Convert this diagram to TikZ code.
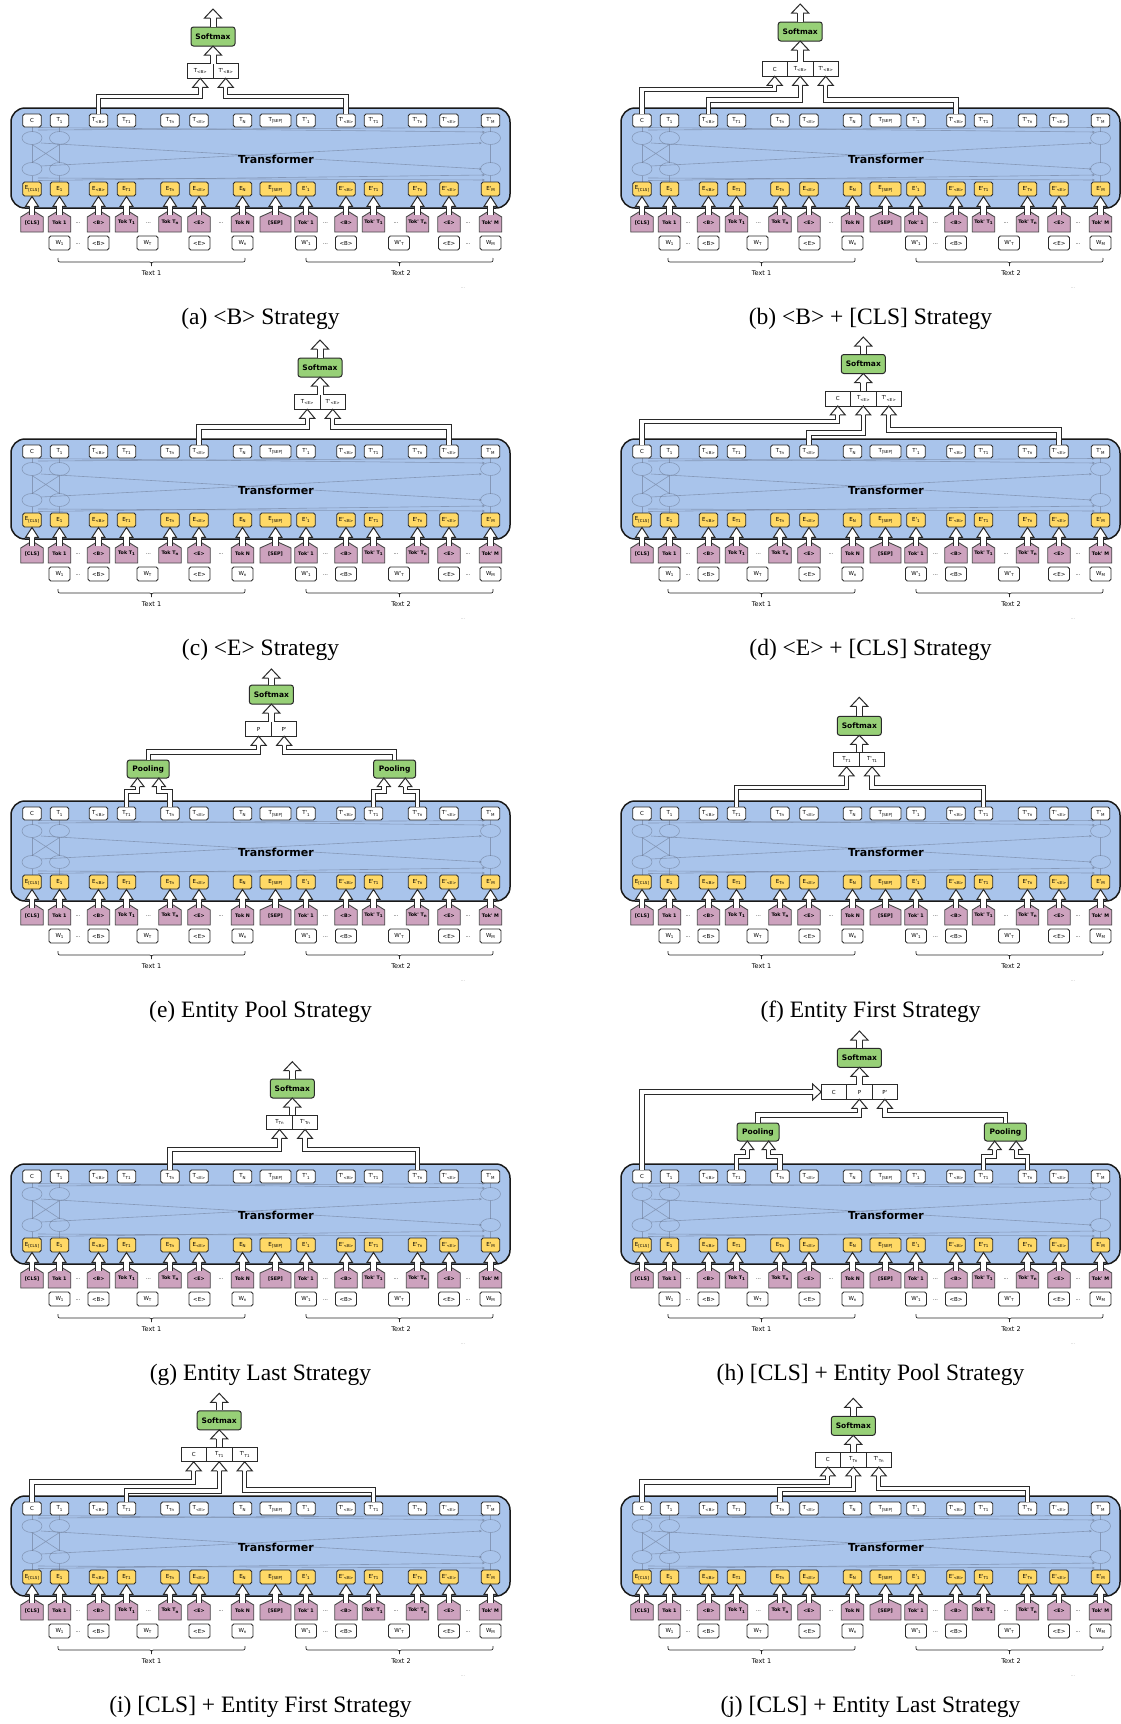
\documentclass[tikz,border=0pt]{standalone}
\usepackage{fontspec}
\setmainfont{Liberation Serif}
\newfontfamily\dv{DejaVu Sans}
\usetikzlibrary{arrows.meta}
\definecolor{boxblue}{HTML}{A9C4EB}
\definecolor{eyel}{HTML}{FFD966}
\definecolor{tpink}{HTML}{CDA2BE}
\definecolor{sgreen}{HTML}{97D077}
\definecolor{dk}{HTML}{2A2A2A}
\definecolor{faint}{HTML}{6E7C96}
\newcommand\lsub[1]{\raisebox{-0.5ex}{\fontsize{4pt}{4.5pt}\selectfont #1}}
\tikzset{
 lbl/.style={font=\dv\fontsize{5pt}{6pt}\selectfont},
 tnode/.style={draw=dk, fill=white, rounded corners=1.8pt, line width=0.9pt, minimum width=18.5pt, minimum height=13pt, inner sep=0pt, font=\dv\fontsize{5.5pt}{6pt}\selectfont},
 enode/.style={tnode, fill=eyel, minimum height=14pt},
 wnode/.style={tnode, minimum width=21pt, minimum height=14pt},
 knode/.style={minimum width=20pt, minimum height=22pt, inner sep=0pt, font=\dv\bfseries\fontsize{4.8pt}{6pt}\selectfont},
 kshape/.style={draw=dk!85, fill=tpink, line width=0.9pt, line join=miter},
 cell/.style={draw=dk, fill=white, line width=0.9pt, minimum width=25.5pt, minimum height=14.5pt, inner sep=0pt, font=\dv\fontsize{5.5pt}{6pt}\selectfont},
 gbox/.style={draw=dk, fill=sgreen, rounded corners=2.5pt, line width=1pt, minimum width=44pt, minimum height=19pt, inner sep=0pt, font=\dv\bfseries\fontsize{7.5pt}{9pt}\selectfont},
 pbox/.style={gbox, minimum width=42pt, minimum height=18pt},
 tfbox/.style={draw=black!90, fill=boxblue, rounded corners=14pt, line width=1.5pt},
 tftext/.style={font=\dv\bfseries\fontsize{11pt}{13pt}\selectfont},
 fsA/.style={draw=dk, line width=1pt, double=white, double distance=3.2pt, line join=miter},
 fsB/.style={draw=dk, line width=1pt, double=white, double distance=5pt, line join=miter},
 fsK/.style={draw=dk, line width=0.9pt, double=white, double distance=4.4pt},
 hd/.style={draw=dk, line width=1pt, fill=white, line join=miter},
 faintl/.style={draw=faint, line width=0.6pt, opacity=0.6},
 bracel/.style={draw=dk, line width=0.7pt},
 txtlbl/.style={font=\dv\fontsize{6.5pt}{8pt}\selectfont},
 capt/.style={font=\fontsize{23.5pt}{26pt}\selectfont},
}
\newcommand\hup[4]{\draw[hd] #1 ++(-#4,#3) -- ++({#4-#2},0) -- #1 -- ++(#2,#3) -- ++({#4-#2},0);}
\newcommand\hright[4]{\draw[hd] #1 ++(-#3,-#4) -- ++(0,{#4-#2}) -- #1 -- ++(-#3,#2) -- ++(0,{#4-#2});}
% #1 from node, #2 level y, #3 tip x, #4 tip y, #5 head half width, #6 head length
\newcommand\vroute[6]{%
 \draw[fsA] (#1.north) |- (#3,#2) -- (#3,{#4+#6});
 \hup{(#3,#4)}{#5}{#6}{2.1}}
\newcommand\softm[5]{%
 \node[gbox] (#1sm) at (#2,#3) {Softmax};
 \coordinate (#1pt) at (#2,#4);
 \coordinate (#1out) at (#2,#5);
 \draw[fsB] (#1pt) -- (#2,{#3+9.5+9});
 \hup{(#2,{#3+9.5})}{8.5}{9}{3}
 \draw[fsB] (#1sm.north) -- (#2,{#5+9});
 \hup{(#1out)}{8.5}{9}{3}}
\newcommand\drawpanel[4]{%
\begin{scope}[shift={(#2,#3)}]
\draw[tfbox] (0,0) rectangle (499,100);
\foreach \cx in {21,48.5,479.5}{%
 \draw[faintl] (\cx,61) ellipse [x radius=10, y radius=6.5];
 \draw[faintl] (\cx,30) ellipse [x radius=10, y radius=6.5];
 \draw[faintl] (\cx,74) -- (\cx,67.5) (\cx,54.5) -- (\cx,36.5) (\cx,23.5) -- (\cx,19);}
\draw[faintl] (21,54.5) -- (48.5,36.5) (48.5,54.5) -- (21,36.5);
\draw[faintl,-{Stealth[length=3pt,width=2.5pt]}] (27,22) -- (474,19.5);
\draw[faintl,-{Stealth[length=3pt,width=2.5pt]}] (27,19.5) -- (474,24);
\draw[faintl,-{Stealth[length=3pt,width=2.5pt]}] (30,35) -- (471,61);
\draw[faintl,-{Stealth[length=3pt,width=2.5pt]}] (30,58) -- (471,35);
\draw[faintl,-{Stealth[length=3pt,width=2.5pt]}] (27,70) -- (474,72);
\draw[faintl,-{Stealth[length=3pt,width=2.5pt]}] (27,72.5) -- (474,67);
\node[tftext] (#1tf) at (265,51) {Transformer};
\foreach \x/\w/\lab [count=\i] in {21/18.5/C, 48.5/18.5/{T\lsub{1}}, 87.5/18.5/{T\lsub{<B>}}, 115.5/18.5/{T\lsub{T1}}, 159/18.5/{T\lsub{Tn}}, 188/18.5/{T\lsub{<E>}}, 231.5/18.5/{T\lsub{N}}, 264.5/31/{T\lsub{[SEP]}}, 295/18.5/{T'\lsub{1}}, 335/18.5/{T'\lsub{<B>}}, 362.5/18.5/{T'\lsub{T1}}, 406.5/18.5/{T'\lsub{Tn}}, 438/18.5/{T'\lsub{<E>}}, 479.5/18.5/{T'\lsub{M}}}
 {\node[tnode, minimum width=\w pt] (#1t\i) at (\x,12.5) {\lab};}
\foreach \x/\w/\lab [count=\i] in {21/18.5/{E\lsub{[CLS]}}, 48.5/18.5/{E\lsub{1}}, 87.5/18.5/{E\lsub{<B>}}, 115.5/18.5/{E\lsub{T1}}, 159/18.5/{E\lsub{Tn}}, 188/18.5/{E\lsub{<E>}}, 231.5/18.5/{E\lsub{N}}, 264.5/31/{E\lsub{[SEP]}}, 295/18.5/{E'\lsub{1}}, 335/18.5/{E'\lsub{<B>}}, 362.5/18.5/{E'\lsub{T1}}, 406.5/18.5/{E'\lsub{Tn}}, 438/18.5/{E'\lsub{<E>}}, 479.5/18.5/{E'\lsub{M}}}
 {\node[enode, minimum width=\w pt] (#1e\i) at (\x,81) {\lab};}
\foreach \x/\w/\lab [count=\i] in {21/22.5/{[CLS]}, 48.5/22.5/{Tok 1}, 87.5/22.5/{<B>}, 115.5/22.5/{Tok T\lsub{1}}, 159/22.5/{Tok T\lsub{n}}, 188/22.5/{<E>}, 231.5/22.5/{Tok N}, 264.5/31/{[SEP]}, 295/22.5/{Tok' 1}, 335/22.5/{<B>}, 362.5/22.5/{Tok' T\lsub{1}}, 406.5/22.5/{Tok' T\lsub{n}}, 438/22.5/{<E>}, 479.5/22.5/{Tok' M}}
 {\filldraw[kshape] ({\x-\w/2},124) -- ({\x-\w/2},109) -- (\x,102) -- ({\x+\w/2},109) -- ({\x+\w/2},124) -- cycle;
  \node[knode] (#1k\i) at (\x,114.5) {\lab};}
\foreach \i in {1,...,14}{%
 \path (#1e\i.south) ++(0,10) coordinate (#1kb\i);
 \draw[fsK] (#1k\i.north) ++(0,3.5) -- (#1kb\i);
 \hup{(#1e\i.south)}{6.5}{10}{2.65}}
\foreach \x/\lab [count=\i] in {48.5/{W\lsub{1}}, 87.5/{<B>}, 136.5/{W\lsub{T}}, 188.5/{<E>}, 231.5/{W\lsub{n}}, 295/{W'\lsub{1}}, 335/{<B>}, 388/{W'\lsub{T}}, 438/{<E>}, 479.5/{W\lsub{M}}}
 {\node[wnode] (#1w\i) at (\x,135) {\lab};}
\foreach \x [count=\i] in {67,137.5,210,314.5,385,457}{\node[lbl] (#1dk\i) at (\x,115) {...};}
\foreach \x [count=\i] in {67,314.5,457}{\node[lbl] (#1dw\i) at (\x,136) {...};}
\draw[bracel] (47,150) .. controls (47,154) .. (51,154) -- (136.5,154) .. controls (140.5,154) .. (140.5,158) .. controls (140.5,154) .. (144.5,154) -- (230,154) .. controls (234,154) .. (234,150);
\draw[bracel] (295,150) .. controls (295,154) .. (299,154) -- (384.5,154) .. controls (388.5,154) .. (388.5,158) .. controls (388.5,154) .. (392.5,154) -- (478,154) .. controls (482,154) .. (482,150);
\node[txtlbl] (#1tx1) at (140.5,165) {Text 1};
\node[txtlbl] (#1tx2) at (390,165) {Text 2};
\node[lbl, text=black!30] (#1dd) at (452,180) {...};
\node[capt] (#1cap) at (249.5,211) {#4};
\end{scope}}
\begin{document}
\begin{tikzpicture}[x=1pt,y=-1pt]
\useasboundingbox[fill=white] (0,0) rectangle (1121,1724);
\drawpanel{a}{11}{108}{(a) <B> Strategy}
\drawpanel{b}{621}{108}{(b) <B> + [CLS] Strategy}
\drawpanel{c}{11}{439}{(c) <E> Strategy}
\drawpanel{d}{621}{439}{(d) <E> + [CLS] Strategy}
\drawpanel{e}{11}{801}{(e) Entity Pool Strategy}
\drawpanel{f}{621}{801}{(f) Entity First Strategy}
\drawpanel{g}{11}{1164}{(g) Entity Last Strategy}
\drawpanel{h}{621}{1164}{(h) [CLS] + Entity Pool Strategy}
\drawpanel{i}{11}{1496}{(i) [CLS] + Entity First Strategy}
\drawpanel{j}{621}{1496}{(j) [CLS] + Entity Last Strategy}
% (a)
\begin{scope}[shift={(11,108)}]
 \node[cell] (aP1) at (189.25,-37) {T\lsub{<B>}};
 \node[cell] (aP2) at (214.75,-37) {T'\lsub{<B>}};
 \softm{a}{202}{-71.5}{-44.25}{-99}
 \vroute{at3}{-11.5}{189.25}{-29.75}{7.5}{9}
 \vroute{at10}{-11.5}{214.75}{-29.75}{7.5}{9}
\end{scope}
% (b)
\begin{scope}[shift={(621,108)}]
 \node[cell] (bC) at (153.7,-39) {C};
 \node[cell] (bP1) at (179.2,-39) {T\lsub{<B>}};
 \node[cell] (bP2) at (204.7,-39) {T'\lsub{<B>}};
 \softm{b}{179.2}{-76.5}{-46.25}{-104}
 \vroute{bt1}{-18.5}{153.7}{-31.75}{7.5}{9}
 \vroute{bt3}{-8}{179.2}{-31.75}{7.5}{9}
 \vroute{bt10}{-8}{204.7}{-31.75}{7.5}{9}
\end{scope}
% (c)
\begin{scope}[shift={(11,439)}]
 \node[cell] (cP1) at (296.25,-37) {T\lsub{<E>}};
 \node[cell] (cP2) at (321.75,-37) {T'\lsub{<E>}};
 \softm{c}{309}{-71.5}{-44.25}{-99}
 \vroute{ct6}{-12}{296.25}{-29.75}{7.5}{9}
 \vroute{ct13}{-12}{321.75}{-29.75}{7.5}{9}
\end{scope}
% (d)
\begin{scope}[shift={(621,439)}]
 \node[cell] (dC) at (216.8,-40.3) {C};
 \node[cell] (dP1) at (242.3,-40.3) {T\lsub{<E>}};
 \node[cell] (dP2) at (267.8,-40.3) {T'\lsub{<E>}};
 \softm{d}{242.3}{-75}{-47.55}{-102}
 \vroute{dt1}{-17.3}{216.8}{-33.05}{7.5}{9}
 \vroute{dt6}{-6}{242.3}{-33.05}{7.5}{9}
 \vroute{dt13}{-9}{267.8}{-33.05}{7.5}{9}
\end{scope}
% (e)
\begin{scope}[shift={(11,801)}]
 \node[cell] (eP1) at (247.65,-72) {P};
 \node[cell] (eP2) at (273.15,-72) {P'};
 \softm{e}{260.4}{-106.4}{-79.25}{-132}
 \node[pbox] (eL) at (137.2,-32) {Pooling};
 \node[pbox] (eR) at (383.6,-32) {Pooling};
 \vroute{eL}{-49}{247.65}{-64.75}{7.5}{9}
 \vroute{eR}{-49}{273.15}{-64.75}{7.5}{9}
 \vroute{et4}{-9.5}{126.5}{-23}{6.5}{8.5}
 \vroute{et5}{-9.5}{147.9}{-23}{6.5}{8.5}
 \vroute{et11}{-9.5}{372.9}{-23}{6.5}{8.5}
 \vroute{et12}{-9.5}{394.3}{-23}{6.5}{8.5}
\end{scope}
% (f)
\begin{scope}[shift={(621,801)}]
 \node[cell] (fP1) at (225.55,-41.5) {T\lsub{T1}};
 \node[cell] (fP2) at (251.05,-41.5) {T'\lsub{T1}};
 \softm{f}{238.3}{-75.2}{-48.75}{-103.7}
 \vroute{ft4}{-13.8}{225.55}{-34.25}{7.5}{9}
 \vroute{ft11}{-13.8}{251.05}{-34.25}{7.5}{9}
\end{scope}
% (g)
\begin{scope}[shift={(11,1164)}]
 \node[cell] (gP1) at (268.55,-41.8) {T\lsub{Tn}};
 \node[cell] (gP2) at (294.05,-41.8) {T'\lsub{Tn}};
 \softm{g}{281.3}{-75.5}{-49.05}{-102.3}
 \vroute{gt5}{-14.5}{268.55}{-34.55}{7.5}{9}
 \vroute{gt12}{-14.5}{294.05}{-34.55}{7.5}{9}
\end{scope}
% (h)
\begin{scope}[shift={(621,1164)}]
 \node[cell] (hC) at (212.9,-72) {C};
 \node[cell] (hP1) at (238.4,-72) {P};
 \node[cell] (hP2) at (263.9,-72) {P'};
 \softm{h}{238.4}{-106.2}{-79.25}{-133}
 \node[pbox] (hL) at (137,-32) {Pooling};
 \node[pbox] (hR) at (384.4,-32) {Pooling};
 \vroute{hL}{-49}{238.4}{-64.75}{7.5}{9}
 \vroute{hR}{-49}{263.9}{-64.75}{7.5}{9}
 \vroute{ht4}{-7.5}{126.3}{-23}{6.5}{8.5}
 \vroute{ht5}{-7.5}{147.7}{-23}{6.5}{8.5}
 \vroute{ht11}{-7.5}{373.7}{-23}{6.5}{8.5}
 \vroute{ht12}{-7.5}{395.1}{-23}{6.5}{8.5}
 \draw[fsA] (ht1.north) |- (191.65,-72);
 \hright{(200.15,-72)}{8}{8.5}{2.1}
\end{scope}
% (i)
\begin{scope}[shift={(11,1496)}]
 \node[cell] (iC) at (182.7,-41.5) {C};
 \node[cell] (iP1) at (208.2,-41.5) {T\lsub{T1}};
 \node[cell] (iP2) at (233.7,-41.5) {T'\lsub{T1}};
 \softm{i}{208.2}{-75.7}{-48.75}{-102.7}
 \vroute{it1}{-14}{182.7}{-34.25}{7.5}{9}
 \vroute{it4}{-5}{208.2}{-34.25}{7.5}{9}
 \vroute{it11}{-6}{233.7}{-34.25}{7.5}{9}
\end{scope}
% (j)
\begin{scope}[shift={(621,1496)}]
 \node[cell] (jC) at (206.8,-36.3) {C};
 \node[cell] (jP1) at (232.3,-36.3) {T\lsub{Tn}};
 \node[cell] (jP2) at (257.8,-36.3) {T'\lsub{Tn}};
 \softm{j}{232.3}{-70.2}{-43.55}{-97.7}
 \vroute{jt1}{-14}{206.8}{-29.05}{7.5}{9}
 \vroute{jt5}{-6.3}{232.3}{-29.05}{7.5}{9}
 \vroute{jt12}{-7.5}{257.8}{-29.05}{7.5}{9}
\end{scope}
\end{tikzpicture}
\end{document}
